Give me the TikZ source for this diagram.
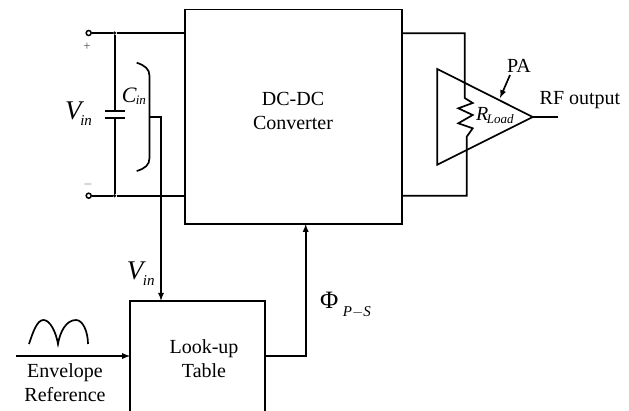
\documentclass[tikz,border=0pt]{standalone}
\usepackage{fontspec}
\setmainfont{Liberation Serif}
\usetikzlibrary{arrows, positioning}
% letter, subscript, kern, drop, subscript size
\newcommand{\subtxt}[5]{\textit{#1}\kern#3pt\raisebox{-#4pt}{\fontsize{#5}{#5}\selectfont\textit{#2}}}
\tikzset{
  wire/.style = {line width = 1.7pt},
  blockbox/.style = {draw, rectangle, line width = 1.7pt, inner sep = 0pt},
  txt/.style = {font = \fontsize{20}{24}\selectfont, align = center, inner sep = 0pt},
  term/.style = {draw, circle, fill = white, line width = 1.5pt, minimum size = 5pt, inner sep = 0pt},
  dot/.style = {fill, circle, minimum size = 3.5pt, inner sep = 0pt},
  sign/.style = {font = \fontsize{13}{13}\selectfont, text = black!70, inner sep = 0pt}
}
\begin{document}
\begin{tikzpicture} [x = 1pt, y = -1pt, >=latex]
\useasboundingbox (0,0) rectangle (629,410);
\clip (0,0) rectangle (629,410);

\node[blockbox, minimum width = 217pt, minimum height = 214.5pt](dcdc) at (293.5,116.7){};
\node[blockbox, minimum width = 135pt, minimum height = 130pt](lut) at (197.5,366){};
\node[txt](dctxt) at (293,111){DC-DC\\Converter};
\node[txt](luttxt) at (204,358.5){Look-up\\Table};

\node[term](tp) at (88.7,33){};
\node[term](tn) at (88.7,195.7){};
\node[dot](jp) at (114.7,33){};
\node[dot](jn) at (114.7,195.7){};
\node[sign](plus) at (87,47){+};
\node[sign](minus) at (88,184){$-$};
\coordinate (dcp) at (185,33);
\coordinate (dcn) at (185,195.7);
\draw [wire](tp) -- (jp) -- (dcp);
\draw [wire](tn) -- (jn) -- (dcn);

\coordinate (capa) at (114.7,110.7);
\coordinate (capb) at (114.7,118);
\draw [wire](jp) -- (capa);
\draw [wire](jn) -- (capb);
\draw [wire](105,110.7) -- (124.5,110.7);
\draw [wire](105,118) -- (124.5,118);

\coordinate (brace) at (149.5,117);
\coordinate (lutin) at (161,300.7);
\draw [wire](136.7,62.7) .. controls (145,65.5) and (149.5,69) .. (149.5,76) -- (brace) -- (149.5,158) .. controls (149.5,165) and (145,168.5) .. (136.7,171);
\draw [wire, ->](brace) -| (lutin);

\coordinate (envin) at (16,356);
\coordinate (lutw) at (130,356);
\draw [wire, ->](envin) -- (lutw);
\draw [wire](29,344) .. controls (33,332) and (37,320) .. (43.5,320) .. controls (50,320) and (56,332) .. (58,344) .. controls (60,332) and (66,320) .. (76,320) .. controls (83,320) and (88,332) .. (88,344);
\node[txt](env) at (65,383){Envelope\\Reference};

\coordinate (lute) at (265,356);
\coordinate (dcs) at (305.7,224);
\draw [wire, ->](lute) -| (dcs);

\node[txt, anchor = base west, font = \fontsize{25}{25}\selectfont](phi) at (320,308){Φ};
\node[txt, anchor = base west, font = \fontsize{15}{15}\selectfont\itshape](phisub) at (342.7,316){P$-$S};

\node[txt, anchor = base west, font = \fontsize{27}{27}\selectfont](vina) at (65,119){\subtxt{V}{in}{-4}{6}{15}};
\node[txt, anchor = base west, font = \fontsize{22}{22}\selectfont](cin) at (121.7,102.7){\subtxt{C}{in}{-1}{2}{13}};
\node[txt, anchor = base west, font = \fontsize{27}{27}\selectfont](vinb) at (126.7,279.3){\subtxt{V}{in}{-3}{6.5}{15}};

\coordinate (paa) at (437.3,69);
\coordinate (pab) at (437.3,164.7);
\coordinate (pat) at (532.7,117);
\coordinate (rfout) at (558,117);
\draw [wire](paa) -- (pat) -- (pab) -- cycle;
\draw [wire](pat) -- (rfout);

\coordinate (dcq) at (402,33.3);
\coordinate (dcr) at (402,195.7);
\draw [wire](dcq) -- (464.7,33.3) -- (464.7,98) -- (472.7,103) -- (458.3,108.3) -- (472.7,115) -- (458.3,123.3) -- (472.7,128.3) -- (466.7,136.7) -- (466.7,195.7) -- (dcr);
\node[txt, anchor = base west](rl) at (476,120){\subtxt{R}{Load}{-1.5}{3}{13}};

\node[txt](palbl) at (519,66){PA};
\coordinate (patip) at (500,98);
\draw [wire, ->](510,75) -- (patip);
\node[txt](rflbl) at (580,100){RF output};
\end{tikzpicture}
\end{document}
